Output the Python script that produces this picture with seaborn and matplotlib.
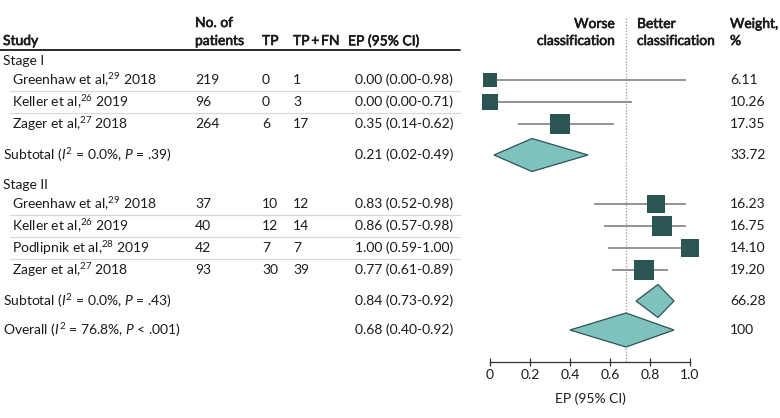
import numpy as np
import pandas as pd
import matplotlib.pyplot as plt
import matplotlib.patheffects as pe
import seaborn as sns

# données
groups = ["Stage I", "Stage II"]
stage = ["Stage I"] * 3 + ["Stage II"] * 4
studies = ["Greenhaw et al,$^{29}$ 2018", "Keller et al,$^{26}$ 2019", "Zager et al,$^{27}$ 2018",
           "Greenhaw et al,$^{29}$ 2018", "Keller et al,$^{26}$ 2019", "Podlipnik et al,$^{28}$ 2019",
           "Zager et al,$^{27}$ 2018"]
patients = [219, 96, 264, 37, 40, 42, 93]
tp = [0, 0, 6, 10, 12, 7, 30]
tp_fn = [1, 3, 17, 12, 14, 7, 39]
ep = [0.00, 0.00, 0.35, 0.83, 0.86, 1.00, 0.77]
ci_low = [0.00, 0.00, 0.14, 0.52, 0.57, 0.59, 0.61]
ci_high = [0.98, 0.71, 0.62, 0.98, 0.98, 1.00, 0.89]
weight = [6.11, 10.26, 17.35, 16.23, 16.75, 14.10, 19.20]

T = "\u2009"  # espace fine
sub_labels = [r"Subtotal ($\mathit{I}^{2}$ = 0.0%, $\mathit{P}$ = .39)",
              r"Subtotal ($\mathit{I}^{2}$ = 0.0%, $\mathit{P}$ = .43)"]
sub_ep = [0.21, 0.84]
sub_low = [0.02, 0.73]
sub_high = [0.49, 0.92]
sub_weight = ["33.72", "66.28"]

overall_label = r"Overall ($\mathit{I}^{2}$ = 76.8%, $\mathit{P}$ < .001)"
overall_ep, overall_low, overall_high, overall_weight = 0.68, 0.40, 0.92, "100"

xticks = [0, 0.2, 0.4, 0.6, 0.8, 1.0]
xtick_labels = ["0", "0.2", "0.4", "0.6", "0.8", "1.0"]

df = pd.DataFrame({"stage": stage, "study": studies, "patients": patients, "tp": tp,
                   "tp_fn": tp_fn, "ep": ep, "low": ci_low, "high": ci_high, "weight": weight})

# style
sns.set_theme(style="white")
plt.rcParams["font.family"] = ["Lato", "DejaVu Sans"]
plt.rcParams["mathtext.fontset"] = "custom"
plt.rcParams["mathtext.rm"] = "Lato"
plt.rcParams["mathtext.it"] = "Lato:italic"
plt.rcParams["mathtext.bf"] = "Lato:bold"

FS = 10
INK = "#1a1a1a"
DARK = "#2b5553"
LIGHT = "#7fc1be"

# positions des lignes (pixels, du haut)
group_y, sub_y = [], []
study_y = []
y = 61
for g in groups:
    group_y.append(y)
    y += 19
    for _ in range((df["stage"] == g).sum()):
        study_y.append(y)
        y += 22
    y += 9
    sub_y.append(y)
    y += 30
overall_y = sub_y[-1] + 29
df["y"] = study_y

fig = plt.figure(figsize=(7.8, 4.18), dpi=100)
txt = fig.add_axes([0, 0, 1, 1])
txt.set_xlim(0, 780)
txt.set_ylim(418, 0)
txt.axis("off")

ax = fig.add_axes([490 / 780, 0, 200 / 780, 1])
ax.patch.set_visible(False)
ax.set_xlim(0, 1)
ax.set_ylim(418, 0)

# en-têtes (demi-gras simulé)
semi = [pe.withStroke(linewidth=0.45, foreground=INK)]
hkw = dict(fontsize=FS, color=INK, va="center", path_effects=semi)
txt.text(3, 41, "Study", **hkw)
txt.text(195, 23, "No. of", **hkw)
txt.text(195, 41, "patients", **hkw)
txt.text(262, 41, "TP", **hkw)
txt.text(293, 41, "TP" + T + "+" + T + "FN", **hkw)
txt.text(348, 41, "EP (95% CI)", **hkw)
txt.text(615, 24, "Worse", ha="right", **hkw)
txt.text(615, 41, "classification", ha="right", **hkw)
txt.text(637, 24, "Better", **hkw)
txt.text(637, 41, "classification", **hkw)
txt.text(730, 24, "Weight,", **hkw)
txt.text(730, 41, "%", **hkw)
txt.plot([0, 460], [50, 50], color=INK, lw=1.3)

kw = dict(fontsize=FS, color=INK, va="center")
for g, gy in zip(groups, group_y):
    txt.text(3, gy, g, **kw)

for i, r in df.iterrows():
    txt.text(12, r.y, r.study, **kw)
    txt.text(195, r.y, str(r.patients), **kw)
    txt.text(262, r.y, str(r.tp), **kw)
    txt.text(293, r.y, str(r.tp_fn), **kw)
    txt.text(355, r.y, f"{r.ep:.2f} ({r.low:.2f}-{r.high:.2f})", **kw)
    txt.text(730, r.y, f"{r.weight:.2f}", **kw)
    last = i == len(df) - 1 or df.stage[i + 1] != r.stage
    if not last:
        txt.plot([10, 460], [r.y + 11, r.y + 11], color="#d9d9d2", lw=0.9)

for lab, sy, e, lo, hi, w in zip(sub_labels, sub_y, sub_ep, sub_low, sub_high, sub_weight):
    txt.text(3, sy, lab, **kw)
    txt.text(355, sy, f"{e:.2f} ({lo:.2f}-{hi:.2f})", **kw)
    txt.text(730, sy, w, **kw)

txt.text(3, overall_y, overall_label, **kw)
txt.text(355, overall_y, f"{overall_ep:.2f} ({overall_low:.2f}-{overall_high:.2f})", **kw)
txt.text(730, overall_y, overall_weight, **kw)

# forest
ax.plot([overall_ep, overall_ep], [18, 362], color="#a0a0a0", lw=1, ls=(0, (1, 1.2)), zorder=1)
ax.hlines(df["y"], df["low"], df["high"], color="#777777", lw=1.1, zorder=2, clip_on=False)
side_px = 3.56 + 3.82 * np.sqrt(df["weight"])
sns.scatterplot(x=df["ep"], y=df["y"], marker="s", s=(side_px * 0.72) ** 2, color=DARK,
                edgecolor=DARK, linewidth=0, ax=ax, zorder=3, clip_on=False, legend=False)

def diamond(e, lo, hi, yc, h):
    ax.fill([lo, e, hi, e], [yc, yc - h, yc, yc + h], facecolor=LIGHT, edgecolor=DARK,
            lw=0.9, zorder=3, clip_on=False)

for sy, e, lo, hi in zip(sub_y, sub_ep, sub_low, sub_high):
    diamond(e, lo, hi, sy, 16.5)
diamond(overall_ep, overall_low, overall_high, overall_y, 17)

# axe
for s in ["top", "left", "right"]:
    ax.spines[s].set_visible(False)
ax.spines["bottom"].set_position(("data", 362))
ax.spines["bottom"].set_color("#333333")
ax.spines["bottom"].set_linewidth(0.9)
ax.set_yticks([])
ax.set_xticks(xticks)
ax.set_xticklabels(xtick_labels)
ax.tick_params(axis="x", direction="inout", length=6, width=0.9, color="#333333",
               labelsize=FS, labelcolor=INK, pad=2, bottom=True)
ax.set_xlabel("")
ax.set_ylabel("")
ax.text(0.5, 399, "EP (95% CI)", ha="center", va="center", fontsize=FS, color=INK)

fig.savefig("out.png", dpi=100)
